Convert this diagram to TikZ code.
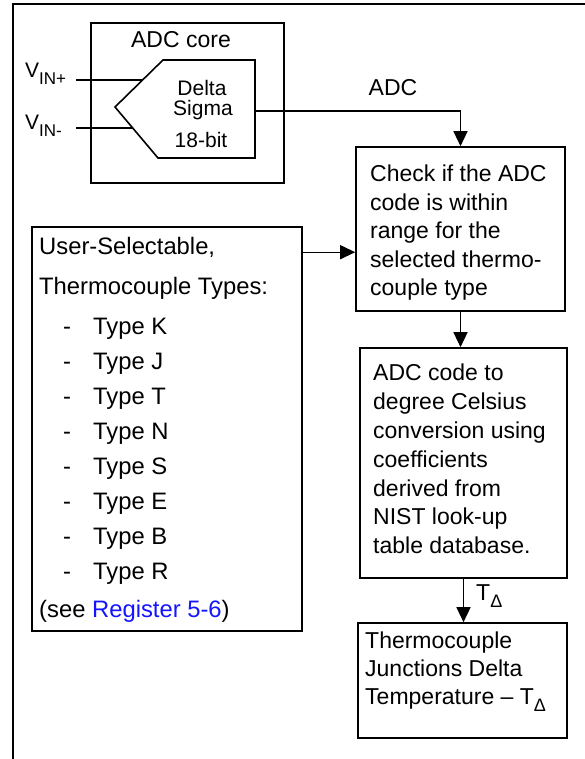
\documentclass[tikz,border=0pt]{standalone}
\usepackage{fontspec}
\setmainfont{Liberation Sans}
\usetikzlibrary{arrows.meta}
\definecolor{linkblue}{RGB}{20,20,255}
\newcommand\lowsub[2][17]{\raisebox{-7pt}{\fontsize{#1}{#1}\selectfont #2}}
\begin{document}
\begin{tikzpicture}[x=1pt,y=-1pt,
  frame/.style={line width=2.2pt},
  box/.style={draw,line width=1.6pt,rectangle,inner sep=0pt},
  conn/.style={line width=1.3pt},
  arr/.style={conn,-{Triangle[length=15pt,width=14pt]}},
  txt/.style={inner sep=0pt,font=\fontsize{23}{28.5}\selectfont,align=left,anchor=north west},
  small/.style={inner sep=0pt,font=\fontsize{21}{22}\selectfont},
]
\useasboundingbox (0,0) rectangle (585,759);
% outer frame (top and left edges)
\draw[frame] (13,759) -- (13,4) -- (585,4);

% ADC core
\node[box,minimum width=193pt,minimum height=160pt] (core) at (187.5,103) {};
\node[inner sep=0pt,font=\fontsize{23}{23}\selectfont] (corelbl) at (181,40) {ADC core};
\draw[line width=1.6pt,line join=miter]
  (163,60) coordinate (dstl) -- (255,60) coordinate (dstr) -- (255,158) coordinate (dsbr)
  -- (158,158) coordinate (dsbl) -- (115,107) coordinate (dstip) -- cycle;
\node[small,align=center] (dslbl) at (202,88) {Delta};
\node[small,align=center] (dslbl2) at (203,110) {Sigma};
\node[small,align=center] (dslbl3) at (201,140) {18-bit};

% inputs
\node[inner sep=0pt,anchor=base west,font=\fontsize{21}{21}\selectfont] (vinplbl) at (25,78) {V\lowsub{IN+}};
\node[inner sep=0pt,anchor=base west,font=\fontsize{21}{21}\selectfont] (vinmlbl) at (25,130) {V\lowsub{IN-}};
\coordinate (vinp) at (76,80);
\coordinate (vinpend) at (142.6,80);
\coordinate (vinm) at (76,128);
\coordinate (vinmend) at (132.7,128);
\draw[conn] (vinp) -- (vinpend);
\draw[conn] (vinm) -- (vinmend);

% check box
\node[box,minimum width=209pt,minimum height=164pt] (check) at (460.5,229) {};
\node[txt] (checktxt) at (370,165) {Check if the ADC\\code is within\\range for the\\selected thermo-\\couple type};

% ADC output arrow
\coordinate (dsout) at (255,111);
\draw[arr] (dsout) -| (check.north);
\node[inner sep=0pt,font=\fontsize{23}{23}\selectfont] (adclbl) at (393,88) {ADC};

% user-selectable box
\node[box,minimum width=270pt,minimum height=404pt] (user) at (167,429) {};
\node[txt,font=\fontsize{23.8}{35}\selectfont] (usertxt) at (39,237) {User-Selectable,\\[5pt]
Thermocouple Types:\\[5pt]
\makebox[54pt][l]{\hspace*{24pt}-}Type K\\
\makebox[54pt][l]{\hspace*{24pt}-}Type J\\
\makebox[54pt][l]{\hspace*{24pt}-}Type T\\
\makebox[54pt][l]{\hspace*{24pt}-}Type N\\
\makebox[54pt][l]{\hspace*{24pt}-}Type S\\
\makebox[54pt][l]{\hspace*{24pt}-}Type E\\
\makebox[54pt][l]{\hspace*{24pt}-}Type B\\
\makebox[54pt][l]{\hspace*{24pt}-}Type R\\[3pt]
(see \textcolor{linkblue}{Register 5-6})};
\draw[arr] (user.north east) ++(0,26) coordinate (ua) -- (ua -| check.west);

% conversion box
\node[box,minimum width=207pt,minimum height=230pt] (conv) at (463.5,463) {};
\node[txt,font=\fontsize{23}{28.8}\selectfont] (convtxt) at (373,364) {ADC code to\\degree Celsius\\conversion using\\coefficients\\derived from\\NIST look-up\\table database.};
\draw[arr] (check.south) -- (check.south |- conv.north);

% delta temperature box
\node[box,minimum width=209pt,minimum height=115pt] (delta) at (462.5,680.5) {};
\node[txt,font=\fontsize{23}{28}\selectfont] (deltatxt) at (365,632) {Thermocouple\\Junctions Delta\\Temperature -- T\lowsub[18]{Δ}};
\draw[arr] (conv.south) coordinate (cs) -- (cs |- delta.north);
\node[inner sep=0pt,anchor=base west,font=\fontsize{23}{23}\selectfont] (tdlbl) at (476,600) {T\lowsub[18]{Δ}};
\end{tikzpicture}
\end{document}
